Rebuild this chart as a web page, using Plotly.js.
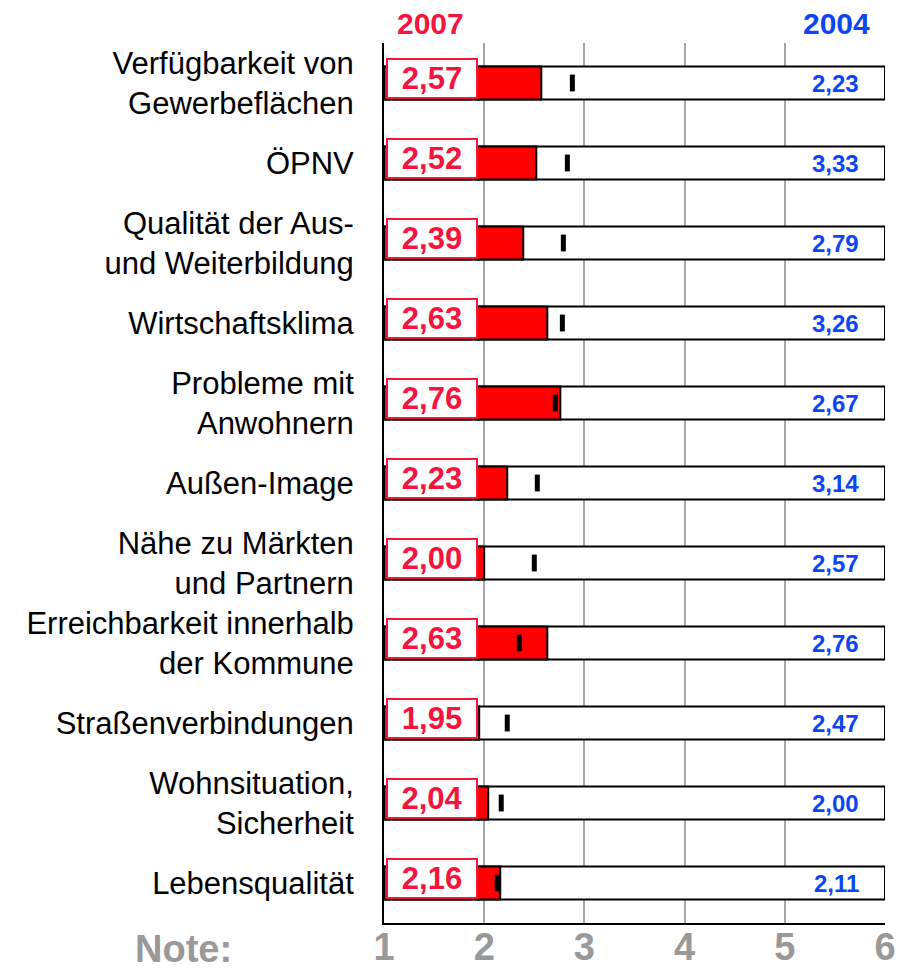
<!DOCTYPE html>
<html>
<head>
<meta charset="utf-8">
<script src="https://cdn.plot.ly/plotly-3.0.1.min.js"></script>
<style>html,body{margin:0;padding:0;background:#fff;}#chart{width:903px;height:971px;}</style>
</head>
<body>
<div id="chart"></div>
<script>
// ---- data ----
const categories = [
  "Verfügbarkeit von<br>Gewerbeflächen",
  "ÖPNV",
  "Qualität der Aus-<br>und Weiterbildung",
  "Wirtschaftsklima",
  "Probleme mit<br>Anwohnern",
  "Außen-Image",
  "Nähe zu Märkten<br>und Partnern",
  "Erreichbarkeit innerhalb<br>der Kommune",
  "Straßenverbindungen",
  "Wohnsituation,<br>Sicherheit",
  "Lebensqualität"
];
const values2007 = [2.57, 2.52, 2.39, 2.63, 2.76, 2.23, 2.00, 2.63, 1.95, 2.04, 2.16];
const values2004 = [2.23, 3.33, 2.79, 3.26, 2.67, 3.14, 2.57, 2.76, 2.47, 2.00, 2.11];
const markerValues = [2.88, 2.83, 2.79, 2.78, 2.71, 2.53, 2.50, 2.35, 2.23, 2.17, 2.13];
const tickValues = [1, 2, 3, 4, 5, 6];
const tickLabels = ["1", "2", "3", "4", "5", "6"];
const scaleMin = 1, scaleMax = 6;
const label2007 = "2007", label2004 = "2004", noteLabel = "Note:";

const fmt = v => v.toFixed(2).replace('.', ',');
const RED_TXT = '#f5143c', BLUE = '#0a46f5', GREY = '#999999';
const FONT = 'Liberation Sans, Arial, sans-serif';

const traces = [
  { type: 'bar', orientation: 'h', y: categories, x: categories.map(() => scaleMax - scaleMin), base: scaleMin,
    width: 0.41, marker: { color: '#ffffff', line: { color: '#000', width: 2 } }, hoverinfo: 'skip' },
  { type: 'bar', orientation: 'h', y: categories, x: values2007.map(v => v - scaleMin), base: scaleMin,
    width: 0.41, marker: { color: '#ff0000', line: { color: '#000', width: 2 } }, hoverinfo: 'skip' },
  { type: 'scatter', mode: 'markers', y: categories, x: markerValues,
    marker: { symbol: 'line-ns-open', size: 12, color: '#000', line: { color: '#000', width: 5 } }, hoverinfo: 'skip' }
];

const annotations = [];
categories.forEach((c, i) => {
  annotations.push({ xref: 'x', yref: 'y', x: scaleMin + 0.02, y: c, xanchor: 'left', yanchor: 'middle', yshift: 5,
    text: '<b>' + fmt(values2007[i]) + '</b>', showarrow: false, align: 'center',
    width: 86, height: 35, bgcolor: '#ffffff', bordercolor: RED_TXT, borderwidth: 2, borderpad: 1,
    font: { family: FONT, size: 31, color: RED_TXT } });
  annotations.push({ xref: 'x', yref: 'y', x: scaleMax, y: c, xanchor: 'right', yanchor: 'middle', xshift: -24,
    text: '<b>' + fmt(values2004[i]) + '</b>', showarrow: false,
    font: { family: FONT, size: 24, color: BLUE } });
});
annotations.push({ xref: 'paper', yref: 'paper', x: 0.022, y: 1.0227, xanchor: 'left', yanchor: 'middle',
  text: '<b>' + label2007 + '</b>', showarrow: false, font: { family: FONT, size: 30, color: RED_TXT } });
annotations.push({ xref: 'paper', yref: 'paper', x: 0.974, y: 1.0227, xanchor: 'right', yanchor: 'middle',
  text: '<b>' + label2004 + '</b>', showarrow: false, font: { family: FONT, size: 30, color: BLUE } });
annotations.push({ xref: 'paper', yref: 'paper', x: -0.30, y: -0.029, xanchor: 'right', yanchor: 'middle',
  text: '<b>' + noteLabel + '</b>', showarrow: false, font: { family: FONT, size: 38, color: GREY } });

const layout = {
  width: 903, height: 971,
  margin: { l: 384, r: 18, t: 43, b: 48, pad: 0 },
  paper_bgcolor: '#fff', plot_bgcolor: '#fff',
  barmode: 'overlay', showlegend: false,
  xaxis: { range: [scaleMin, scaleMax], tickvals: tickValues, ticktext: tickLabels,
    showgrid: true, gridcolor: '#a6a6a6', gridwidth: 2, zeroline: false,
    showline: true, linecolor: '#000', linewidth: 2,
    ticks: '', ticklabelstandoff: -11,
    tickfont: { family: FONT, size: 38, color: GREY, weight: 'bold' }, fixedrange: true },
  yaxis: { type: 'category', categoryorder: 'array', categoryarray: categories,
    range: [categories.length - 0.5, -0.5], showgrid: false, zeroline: false,
    showline: true, linecolor: '#000', linewidth: 2,
    ticks: 'outside', ticklen: 22, tickcolor: 'rgba(0,0,0,0)',
    tickfont: { family: FONT, size: 31, color: '#000' }, fixedrange: true },
  annotations: annotations
};

Plotly.newPlot('chart', traces, layout, { staticPlot: true, displayModeBar: false });
</script>
</body>
</html>
